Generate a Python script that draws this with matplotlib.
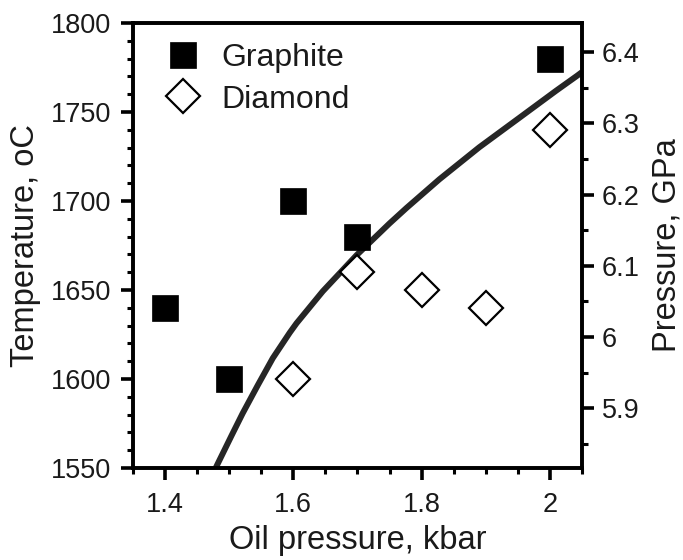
import matplotlib
matplotlib.use('Agg')
from matplotlib import pyplot as plt
from matplotlib.ticker import MultipleLocator, FuncFormatter

plt.rcParams['font.family'] = ['Liberation Sans', 'DejaVu Sans']

# data
graphite_x = [1.4, 1.5, 1.6, 1.7, 2.0]
graphite_t = [1640, 1600, 1700, 1680, 1780]
diamond_x = [1.6, 1.7, 1.8, 1.9, 2.0]
diamond_t = [1600, 1660, 1650, 1640, 1740]

curve_x = [1.479, 1.4823, 1.5041, 1.521, 1.5446, 1.568, 1.5944, 1.605, 1.646,
           1.699, 1.75, 1.7765, 1.8278, 1.890, 1.9523, 2.0099, 2.0426, 2.05]
curve_t = [1550, 1552.5, 1568.5, 1580.7, 1596.5, 1611.7, 1626, 1631.3, 1649.3,
           1669.7, 1687.4, 1696.1, 1712.2, 1730.2, 1746.7, 1762, 1770.4, 1772.4]

gpa_ticks = [5.9, 6.0, 6.1, 6.2, 6.3, 6.4]

fig = plt.figure(figsize=(6.83, 5.6), dpi=100)
ax = fig.add_axes([0.1947, 0.1643, 0.6573, 0.7946])

txt = '#1a1a1a'
fmt = FuncFormatter(lambda v, p: '%g' % round(v, 2))

ax.plot(curve_x, curve_t, color='#262626', lw=4.3, solid_capstyle='butt',
        solid_joinstyle='round', zorder=2)
ax.plot(graphite_x, graphite_t, 's', ms=18.5, color='black', mec='black', mew=0.5,
        label='Graphite', zorder=3)
ax.plot(diamond_x, diamond_t, 'D', ms=17, mfc='white', mec='black', mew=1.6,
        label='Diamond', zorder=3)

ax.set_xlim(1.35, 2.05)
ax.set_ylim(1550, 1800)
ax.xaxis.set_major_locator(MultipleLocator(0.2))
ax.xaxis.set_minor_locator(MultipleLocator(0.05))
ax.xaxis.set_major_formatter(fmt)
ax.yaxis.set_major_locator(MultipleLocator(50))
ax.yaxis.set_minor_locator(MultipleLocator(10))

for s in ax.spines.values():
    s.set_linewidth(2.6)
ax.tick_params(which='major', direction='out', length=8.5, width=2.6, labelsize=19.5,
               labelcolor=txt)
ax.tick_params(which='minor', direction='out', length=4.5, width=2.2)
ax.tick_params(axis='x', which='major', pad=9)
ax.tick_params(axis='y', which='major', pad=7)
ax.tick_params(top=False, right=False, which='both')

ax.set_xlabel('Oil pressure, kbar', fontsize=23.5, color=txt, labelpad=4.5)
ax.set_ylabel('Temperature, oC', fontsize=23.5, color=txt, labelpad=7.5)

ax2 = ax.twinx()
ax2.set_ylim(5.816, 6.441)
ax2.set_yticks(gpa_ticks)
ax2.yaxis.set_major_formatter(fmt)
ax2.yaxis.set_minor_locator(MultipleLocator(0.05))
for s in ax2.spines.values():
    s.set_linewidth(2.6)
ax2.tick_params(which='major', direction='out', length=8.5, width=2.6, labelsize=19.5,
                labelcolor=txt, pad=6)
ax2.tick_params(which='minor', direction='out', length=4.5, width=2.2)
ax2.set_ylabel('Pressure, GPa', fontsize=23.5, color=txt, labelpad=8)

leg = ax.legend(loc='upper left', frameon=False, fontsize=23, handletextpad=0.6,
                borderaxespad=0, borderpad=0, labelspacing=0.36, handlelength=1.2,
                bbox_to_anchor=(0.069, 0.955))
for t in leg.get_texts():
    t.set_color(txt)

fig.savefig('out.png', dpi=100)
